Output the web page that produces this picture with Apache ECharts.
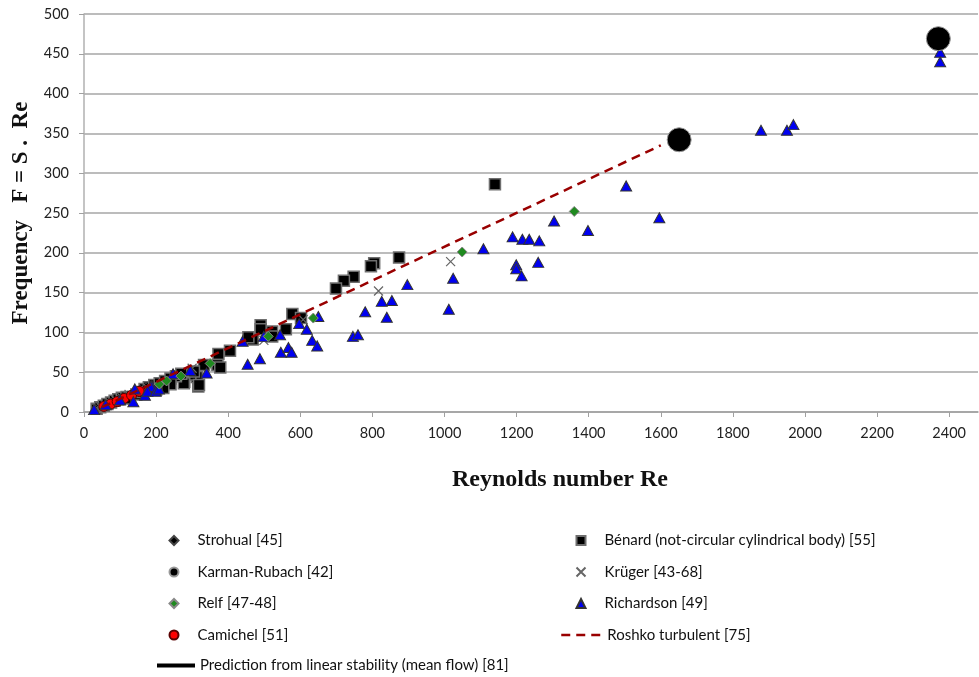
<!DOCTYPE html>
<html>
<head>
<meta charset="utf-8">
<script src="https://cdn.jsdelivr.net/npm/echarts@6/dist/echarts.min.js"></script>
<style>
  html, body { margin: 0; padding: 0; background: #fff; }
  #chart { width: 979px; height: 677px; }
</style>
</head>
<body>
<div id="chart"></div>
<script>
// Re, F = S . Re
const strohual = [[42, 6], [52, 8], [62, 10], [72, 12], [82, 14], [95, 16], [108, 19], [122, 21], [138, 24], [155, 28], [172, 31]]
const karmanRubach = [[1651, 342], [2370, 469]]
const relf = [[1360, 252], [1049, 201], [636, 118], [511, 95], [350, 61], [269, 45], [229, 39], [209, 35]]
const camichel = [[55, 7], [74, 10], [92, 13], [111, 17], [132, 21], [153, 26]]
const benard = [
  [1140, 286], [874, 194], [805, 187], [796, 183], [748, 170], [721, 165], [699, 155],
  [578, 123], [602, 118], [560, 104], [522, 101], [490, 109], [490, 104], [468, 91], [456, 94],
  [522, 95], [405, 77], [373, 73], [370, 59], [378, 56], [317, 32], [313, 44], [333, 59],
  [295, 47], [278, 38], [305, 51], [319, 34], [277, 36],
  [35, 4], [45, 6], [55, 8], [65, 10], [75, 12], [85, 14], [95, 16], [105, 18], [118, 19],
  [126, 17], [145, 22], [162, 25], [168, 29], [180, 31], [195, 34], [210, 36], [225, 39],
  [240, 42], [255, 45], [270, 48], [240, 35], [220, 30], [200, 28]
]
const kruger = [[1017, 189], [817, 152], [499, 90], [608, 116], [35, 5], [45, 7], [58, 9], [72, 12], [88, 15], [105, 18], [125, 22], [150, 27], [175, 31], [300, 55]]
const richardson = [
  [2375, 452], [2375, 440], [1878, 354], [1950, 354], [1968, 361], [1504, 284], [1596, 244],
  [1304, 240], [1398, 228], [1189, 220], [1216, 217], [1235, 217], [1263, 215], [1108, 205],
  [1199, 185], [1199, 180], [1214, 171], [1260, 188], [1024, 168], [1012, 129], [897, 160],
  [826, 139], [854, 140], [780, 126], [840, 119], [746, 95], [760, 97], [650, 120], [618, 104],
  [633, 90], [647, 83], [597, 111], [544, 97], [546, 75], [567, 81], [576, 75], [488, 67],
  [454, 60], [440, 89], [499, 95], [340, 49], [295, 52], [247, 48], [188, 33], [169, 21],
  [137, 13], [141, 29], [185, 32], [176, 26], [199, 26], [208, 29], [28, 3], [60, 9], [100, 15]
]
const roshko = [[50, 6], [1600, 335]]
const prediction = []

const xTicks = { min: 0, max: 2480, interval: 200 }
const yTicks = { min: 0, max: 500, interval: 50 }

const chart = echarts.init(document.getElementById('chart'))
const font = 'Lato'
const crossPath = 'path://M0,0L10,10M10,0L0,10'
const rowTop = 533 // first legend row
const rowStep = 31.5

const legendText = { fontSize: 15, color: '#111', fontFamily: font }
const markerLegend = (left, top, data) => ({
  orient: 'vertical', left: left, top: top, padding: 0,
  itemWidth: 9, itemHeight: 9, itemGap: rowStep - 15,
  textStyle: Object.assign({ padding: [0, 0, 0, 14] }, legendText),
  data: data
})
const lineLegend = (left, top, width, lineWidth, data) => ({
  orient: 'vertical', left: left, top: top, padding: 0,
  itemWidth: width, itemHeight: 9,
  itemStyle: { opacity: 0 },
  lineStyle: { width: lineWidth },
  textStyle: legendText,
  data: data
})

const option = {
  animation: false,
  textStyle: { fontFamily: font },
  grid: { left: 84, right: 1, top: 14, bottom: 265 },
  legend: [
    markerLegend(168.5, rowTop, ['Strohual [45]', 'Karman-Rubach [42]', 'Relf [47-48]', 'Camichel [51]']),
    markerLegend(575.5, rowTop, ['Bénard (not-circular cylindrical body) [55]', 'Krüger [43-68]', 'Richardson [49]']),
    lineLegend(560, rowTop + rowStep * 3, 41, 2.5, ['Roshko turbulent [75]']),
    lineLegend(155, rowTop + rowStep * 4 - 1, 38, 4, ['Prediction from linear stability (mean flow) [81]'])
  ],
  xAxis: {
    type: 'value',
    min: xTicks.min, max: xTicks.max, interval: xTicks.interval,
    name: 'Reynolds number Re',
    nameLocation: 'middle',
    nameGap: 56,
    nameTextStyle: { fontFamily: 'Liberation Serif', fontWeight: 'bold', fontSize: 24, color: '#111', padding: [0, 0, 0, 58] },
    axisLine: { show: true, lineStyle: { color: '#a0a0a0', width: 1.5 } },
    axisTick: { show: true, length: 5, lineStyle: { color: '#a0a0a0' } },
    axisLabel: { showMaxLabel: false, margin: 14, fontSize: 14.5, color: '#222', formatter: v => String(v) },
    splitLine: { show: false }
  },
  yAxis: {
    type: 'value',
    min: yTicks.min, max: yTicks.max, interval: yTicks.interval,
    name: 'Frequency   F = S .  Re',
    nameLocation: 'middle',
    nameGap: 46,
    nameTextStyle: { fontFamily: 'Liberation Serif', fontWeight: 'bold', fontSize: 23, color: '#111' },
    axisLine: { show: true, lineStyle: { color: '#b0b0b0', width: 1.5 } },
    axisTick: { show: true, length: 5, lineStyle: { color: '#a0a0a0' } },
    axisLabel: { margin: 15, fontSize: 14.5, color: '#222', formatter: v => String(v) },
    splitLine: { show: true, lineStyle: { color: '#a6a6a6', width: 1.5 } }
  },
  series: [
    {
      name: 'Roshko turbulent [75]', type: 'line', data: roshko, symbol: 'none',
      lineStyle: { color: '#990000', width: 2.5, type: [9, 6] }, itemStyle: { color: '#990000' }
    },
    {
      name: 'Bénard (not-circular cylindrical body) [55]', type: 'scatter', data: benard,
      symbol: 'rect', symbolSize: 11,
      itemStyle: { color: '#000', borderColor: '#6e6e6e', borderWidth: 1.5, opacity: 1 }
    },
    {
      name: 'Strohual [45]', type: 'scatter', data: strohual,
      symbol: 'diamond', symbolSize: 9,
      itemStyle: { color: '#000', borderColor: '#444', borderWidth: 1, opacity: 1 }
    },
    {
      name: 'Krüger [43-68]', type: 'scatter', data: kruger,
      symbol: crossPath, symbolSize: 9,
      itemStyle: { color: '#666', borderColor: '#666', borderWidth: 1.2, opacity: 1 }
    },
    {
      name: 'Camichel [51]', type: 'scatter', data: camichel,
      symbol: 'circle', symbolSize: 10,
      itemStyle: { color: '#ff0000', borderColor: '#5a0000', borderWidth: 1, opacity: 1 }
    },
    {
      name: 'Richardson [49]', type: 'scatter', data: richardson,
      symbol: 'triangle', symbolSize: [11, 10],
      itemStyle: { color: '#0000f0', borderColor: '#333', borderWidth: 1, opacity: 1 }
    },
    {
      name: 'Relf [47-48]', type: 'scatter', data: relf,
      symbol: 'diamond', symbolSize: 10,
      itemStyle: { color: '#1f8a1f', borderColor: '#888', borderWidth: 1, opacity: 1 }
    },
    {
      name: 'Karman-Rubach [42]', type: 'scatter', data: karmanRubach,
      symbol: 'circle', symbolSize: 24,
      itemStyle: { color: '#000', borderColor: '#999', borderWidth: 1, opacity: 1 }
    },
    {
      name: 'Prediction from linear stability (mean flow) [81]', type: 'line', data: prediction, symbol: 'none',
      lineStyle: { color: '#000', width: 4 }, itemStyle: { color: '#000' }
    }
  ]
}

chart.setOption(option)
window.onresize = () => {
  chart.resize()
}
</script>
</body>
</html>
